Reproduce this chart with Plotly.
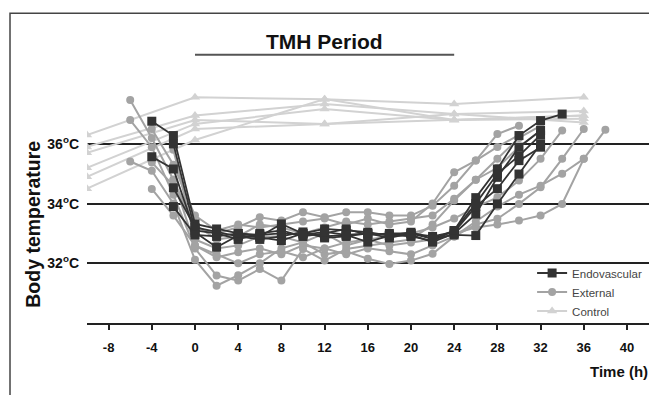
import plotly.graph_objects as go

# ---------------- data ----------------
x_ticks = [-8, -4, 0, 4, 8, 12, 16, 20, 24, 28, 32, 36, 40]
x_tick_text = ["-8", "-4", "0", "4", "8", "12", "16", "20", "24", "28", "32", "36", "40"]
y_ticks = [32, 34, 36]
y_tick_text = ["32<sup>o</sup>C", "34<sup>o</sup>C", "36<sup>o</sup>C"]

# Control (light grey triangles): sparse measurements
control_times = [-10, 0, 12, 24, 36]
control_1 = [36.30, 37.56, 37.50, 37.34, 37.56]
control_2 = [35.90, 36.95, 37.34, 37.00, 37.10]
control_3 = [35.70, 36.80, 36.67, 36.80, 36.95]
control_4 = [35.20, 36.67, 37.17, 36.80, 36.84]
control_5 = [34.90, 36.50, 36.67, 37.00, 36.72]
control_6 = [34.50, 36.13, 37.50, 36.80, 36.95]

# External (grey circles): start hour, then values every 2 h
external_1_start = -6
external_1 = [37.47, 36.2, 34.8, 33.2, 33.0, 33.21, 33.54, 33.43, 33.71, 33.54, 33.71, 33.71, 33.6, 33.6, 33.93, 34.6, 35.44, 36.33, 36.61]
external_2_start = -6
external_2 = [36.8, 35.89, 34.3, 32.5, 31.59, 31.42, 31.81, 31.42, 32.48, 32.09, 32.48, 32.6, 32.7, 32.8, 33.3, 34.1, 34.8, 35.2, 35.9, 36.45]
external_3_start = -6
external_3 = [35.41, 35.1, 34.0, 32.12, 31.25, 31.6, 32.0, 32.5, 32.7, 32.3, 32.4, 32.15, 31.98, 32.09, 32.32, 32.9, 33.3, 33.49, 33.99, 34.55, 35.5, 36.5]
external_4_start = -4
external_4 = [34.49, 33.6, 32.6, 32.2, 32.37, 32.5, 32.3, 32.6, 32.5, 32.7, 32.8, 32.6, 32.7, 32.8, 33.0, 33.2, 33.3, 33.43, 33.6, 33.99, 35.5, 36.47]
external_5_start = -4
external_5 = [35.38, 34.6, 33.3, 32.8, 32.9, 33.3, 33.2, 33.0, 33.2, 33.4, 33.3, 33.4, 33.5, 33.6, 34.16, 34.8, 35.5, 36.2, 36.6]
external_6_start = -2
external_6 = [35.8, 32.8, 32.5, 32.6, 32.9, 32.9, 32.7, 33.0, 32.6, 32.8, 32.9, 33.0, 33.2, 33.5, 33.88, 34.21, 34.77, 35.5, 36.45]
external_7_start = -4
external_7 = [36.5, 35.3, 33.6, 33.1, 33.3, 33.2, 33.3, 33.4, 33.5, 33.3, 33.5, 33.3, 33.4, 34.0, 35.05, 35.44, 35.9, 36.3]
external_8_start = -2
external_8 = [34.8, 32.6, 32.3, 32.0, 32.3, 32.4, 32.2, 32.5, 32.3, 32.5, 32.4, 32.3, 32.6, 32.9, 33.4, 33.9, 34.3, 34.6, 35.0, 35.5]

# Endovascular (dark squares): start hour, then values every 2 h
endo_1_start = -4
endo_1 = [36.76, 36.28, 33.32, 33.15, 33.0, 32.9, 33.32, 33.0, 33.15, 33.1, 33.04, 32.93, 33.04, 32.82, 33.1, 34.2, 35.16, 36.28, 36.78, 37.0]
endo_2_start = -4
endo_2 = [35.57, 35.16, 33.04, 32.54, 32.93, 32.87, 32.76, 33.0, 32.9, 32.95, 32.71, 32.93, 32.95, 32.71, 33.0, 33.65, 34.88, 35.89, 36.45]
endo_3_start = -2
endo_3 = [36.0, 33.1, 33.0, 32.8, 33.0, 33.1, 32.9, 33.0, 33.15, 32.95, 33.0, 33.0, 32.9, 33.05, 33.9, 34.5, 35.44, 35.89]
endo_4_start = -2
endo_4 = [34.53, 33.2, 33.05, 32.9, 32.8, 32.9, 33.05, 32.85, 32.9, 33.0, 32.85, 33.0, 32.82, 32.95, 32.93, 33.99, 34.99, 36.0]
endo_5_start = -2
endo_5 = [33.9, 32.95, 32.9, 33.0, 32.95, 33.0, 32.95, 33.05, 32.95, 33.0, 32.95, 32.9, 32.75, 33.1, 34.0, 35.0, 35.6, 36.3]

tmh_start, tmh_end = 0, 24

# ---------------- figure ----------------
FONT = "Liberation Sans, Arial, sans-serif"
C_ENDO = "#333333"
C_EXT = "#a3a3a3"
C_CTRL = "#d2d2d2"

fig = go.Figure()

def hours(start, vals):
    return [start + 2 * i for i in range(len(vals))]

for i, vals in enumerate([control_1, control_2, control_3, control_4, control_5, control_6]):
    fig.add_trace(go.Scatter(
        x=control_times, y=vals, mode="lines+markers", name="Control",
        legendgroup="ctrl", showlegend=(i == 0), legendrank=3,
        line=dict(color=C_CTRL, width=2),
        marker=dict(symbol="triangle-up", size=9, color=C_CTRL),
    ))

ext = [(external_1_start, external_1), (external_2_start, external_2), (external_3_start, external_3),
       (external_4_start, external_4), (external_5_start, external_5), (external_6_start, external_6),
       (external_7_start, external_7), (external_8_start, external_8)]
for i, (s, vals) in enumerate(ext):
    fig.add_trace(go.Scatter(
        x=hours(s, vals), y=vals, mode="lines+markers", name="External",
        legendgroup="ext", showlegend=(i == 0), legendrank=2,
        line=dict(color=C_EXT, width=2),
        marker=dict(symbol="circle", size=8, color=C_EXT),
    ))

endo = [(endo_1_start, endo_1), (endo_2_start, endo_2), (endo_3_start, endo_3),
        (endo_4_start, endo_4), (endo_5_start, endo_5)]
for i, (s, vals) in enumerate(endo):
    fig.add_trace(go.Scatter(
        x=hours(s, vals), y=vals, mode="lines+markers", name="Endovascular",
        legendgroup="endo", showlegend=(i == 0), legendrank=1,
        line=dict(color=C_ENDO, width=1.8),
        marker=dict(symbol="square", size=9, color=C_ENDO),
    ))

# TMH period bar
fig.add_shape(type="line", xref="x", yref="y", x0=tmh_start, x1=tmh_end, y0=38.99, y1=38.99,
              line=dict(color="#555555", width=2))
fig.add_annotation(x=(tmh_start + tmh_end) / 2, y=39.44, xref="x", yref="y", text="<b>TMH Period</b>",
                   showarrow=False, font=dict(family=FONT, size=21, color="#111111"))

# frame around the figure (right/bottom edges fall outside the picture)
fig.add_shape(type="rect", xref="paper", yref="paper", x0=-0.137, x1=1.05, y0=-0.4, y1=0.990,
              line=dict(color="#444444", width=1.5), layer="below")

fig.add_annotation(x=1.0, y=-0.1556, xref="paper", yref="paper", text="<b>Time (h)</b>",
                   showarrow=False, xanchor="right", yanchor="middle", borderpad=0,
                   font=dict(family=FONT, size=15, color="#111111"))
fig.add_annotation(x=-0.096, y=0.314, xref="paper", yref="paper", text="<b>Body temperature</b>",
                   showarrow=False, textangle=-90, xanchor="center", yanchor="middle",
                   font=dict(family=FONT, size=19.5, color="#111111"))

fig.update_layout(
    width=649, height=395,
    margin=dict(l=87, r=0, t=10, b=72),
    paper_bgcolor="white", plot_bgcolor="white",
    font=dict(family=FONT, color="#111111"),
    showlegend=True,
    legend=dict(x=0.792, y=0.206, xanchor="left", yanchor="top",
                font=dict(family=FONT, size=11.5, color="#444444"),
                bgcolor="rgba(255,255,255,0)", tracegroupgap=0, itemwidth=30),
)
fig.update_xaxes(range=[-10, 42.04], tickvals=x_ticks, ticktext=x_tick_text, showgrid=False, zeroline=False,
                 showline=True, linecolor="#222222", linewidth=2,
                 ticks="outside", ticklen=5, tickwidth=2, tickcolor="#222222",
                 tickfont=dict(family=FONT, size=13, color="#111111", weight="bold"), ticklabelstandoff=6)
fig.update_yaxes(range=[30, 40.486], tickvals=y_ticks, ticktext=y_tick_text,
                 showgrid=True, gridcolor="#222222", gridwidth=1.5, zeroline=False, showline=False,
                 ticks="", tickfont=dict(family=FONT, size=14, color="#111111", weight="bold"),
                 ticklabelstandoff=7)

# remove the default page margin so the 649x395 figure fills the window exactly
fig.write_html("out.html", config={"displayModeBar": False},
               post_script="document.body.style.margin='0';document.body.style.overflow='hidden';")
